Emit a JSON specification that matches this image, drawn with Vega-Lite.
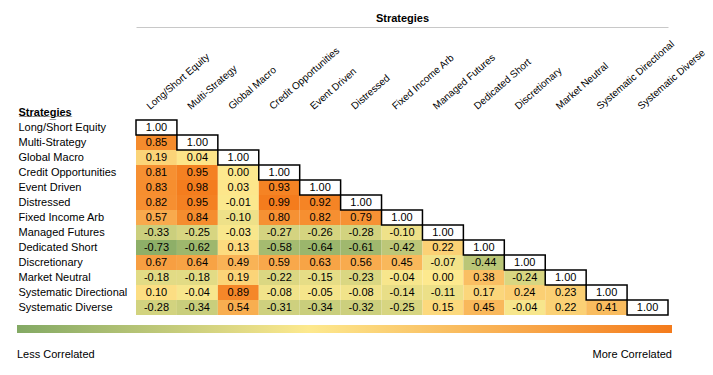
{
  "$schema": "https://vega.github.io/schema/vega-lite/v6.json",
  "width": 532,
  "height": 195,
  "autosize": {"type": "none"},
  "padding": {"left": 136, "top": 120, "right": 45, "bottom": 60},
  "background": "white",
  "config": {"view": {"stroke": null}, "font": "Liberation Sans",
    "locale": {"number": {"decimal": ".", "thousands": ",", "grouping": [3], "currency": ["$", ""], "minus": "-"}}},
  "data": {"values": [
    {"r":"Long/Short Equity","c":"Long/Short Equity","v":1.00},
    {"r":"Multi-Strategy","c":"Long/Short Equity","v":0.85},
    {"r":"Multi-Strategy","c":"Multi-Strategy","v":1.00},
    {"r":"Global Macro","c":"Long/Short Equity","v":0.19},
    {"r":"Global Macro","c":"Multi-Strategy","v":0.04},
    {"r":"Global Macro","c":"Global Macro","v":1.00},
    {"r":"Credit Opportunities","c":"Long/Short Equity","v":0.81},
    {"r":"Credit Opportunities","c":"Multi-Strategy","v":0.95},
    {"r":"Credit Opportunities","c":"Global Macro","v":0.00},
    {"r":"Credit Opportunities","c":"Credit Opportunities","v":1.00},
    {"r":"Event Driven","c":"Long/Short Equity","v":0.83},
    {"r":"Event Driven","c":"Multi-Strategy","v":0.98},
    {"r":"Event Driven","c":"Global Macro","v":0.03},
    {"r":"Event Driven","c":"Credit Opportunities","v":0.93},
    {"r":"Event Driven","c":"Event Driven","v":1.00},
    {"r":"Distressed","c":"Long/Short Equity","v":0.82},
    {"r":"Distressed","c":"Multi-Strategy","v":0.95},
    {"r":"Distressed","c":"Global Macro","v":-0.01},
    {"r":"Distressed","c":"Credit Opportunities","v":0.99},
    {"r":"Distressed","c":"Event Driven","v":0.92},
    {"r":"Distressed","c":"Distressed","v":1.00},
    {"r":"Fixed Income Arb","c":"Long/Short Equity","v":0.57},
    {"r":"Fixed Income Arb","c":"Multi-Strategy","v":0.84},
    {"r":"Fixed Income Arb","c":"Global Macro","v":-0.10},
    {"r":"Fixed Income Arb","c":"Credit Opportunities","v":0.80},
    {"r":"Fixed Income Arb","c":"Event Driven","v":0.82},
    {"r":"Fixed Income Arb","c":"Distressed","v":0.79},
    {"r":"Fixed Income Arb","c":"Fixed Income Arb","v":1.00},
    {"r":"Managed Futures","c":"Long/Short Equity","v":-0.33},
    {"r":"Managed Futures","c":"Multi-Strategy","v":-0.25},
    {"r":"Managed Futures","c":"Global Macro","v":-0.03},
    {"r":"Managed Futures","c":"Credit Opportunities","v":-0.27},
    {"r":"Managed Futures","c":"Event Driven","v":-0.26},
    {"r":"Managed Futures","c":"Distressed","v":-0.28},
    {"r":"Managed Futures","c":"Fixed Income Arb","v":-0.10},
    {"r":"Managed Futures","c":"Managed Futures","v":1.00},
    {"r":"Dedicated Short","c":"Long/Short Equity","v":-0.73},
    {"r":"Dedicated Short","c":"Multi-Strategy","v":-0.62},
    {"r":"Dedicated Short","c":"Global Macro","v":0.13},
    {"r":"Dedicated Short","c":"Credit Opportunities","v":-0.58},
    {"r":"Dedicated Short","c":"Event Driven","v":-0.64},
    {"r":"Dedicated Short","c":"Distressed","v":-0.61},
    {"r":"Dedicated Short","c":"Fixed Income Arb","v":-0.42},
    {"r":"Dedicated Short","c":"Managed Futures","v":0.22},
    {"r":"Dedicated Short","c":"Dedicated Short","v":1.00},
    {"r":"Discretionary","c":"Long/Short Equity","v":0.67},
    {"r":"Discretionary","c":"Multi-Strategy","v":0.64},
    {"r":"Discretionary","c":"Global Macro","v":0.49},
    {"r":"Discretionary","c":"Credit Opportunities","v":0.59},
    {"r":"Discretionary","c":"Event Driven","v":0.63},
    {"r":"Discretionary","c":"Distressed","v":0.56},
    {"r":"Discretionary","c":"Fixed Income Arb","v":0.45},
    {"r":"Discretionary","c":"Managed Futures","v":-0.07},
    {"r":"Discretionary","c":"Dedicated Short","v":-0.44},
    {"r":"Discretionary","c":"Discretionary","v":1.00},
    {"r":"Market Neutral","c":"Long/Short Equity","v":-0.18},
    {"r":"Market Neutral","c":"Multi-Strategy","v":-0.18},
    {"r":"Market Neutral","c":"Global Macro","v":0.19},
    {"r":"Market Neutral","c":"Credit Opportunities","v":-0.22},
    {"r":"Market Neutral","c":"Event Driven","v":-0.15},
    {"r":"Market Neutral","c":"Distressed","v":-0.23},
    {"r":"Market Neutral","c":"Fixed Income Arb","v":-0.04},
    {"r":"Market Neutral","c":"Managed Futures","v":0.00},
    {"r":"Market Neutral","c":"Dedicated Short","v":0.38},
    {"r":"Market Neutral","c":"Discretionary","v":-0.24},
    {"r":"Market Neutral","c":"Market Neutral","v":1.00},
    {"r":"Systematic Directional","c":"Long/Short Equity","v":0.10},
    {"r":"Systematic Directional","c":"Multi-Strategy","v":-0.04},
    {"r":"Systematic Directional","c":"Global Macro","v":0.89},
    {"r":"Systematic Directional","c":"Credit Opportunities","v":-0.08},
    {"r":"Systematic Directional","c":"Event Driven","v":-0.05},
    {"r":"Systematic Directional","c":"Distressed","v":-0.08},
    {"r":"Systematic Directional","c":"Fixed Income Arb","v":-0.14},
    {"r":"Systematic Directional","c":"Managed Futures","v":-0.11},
    {"r":"Systematic Directional","c":"Dedicated Short","v":0.17},
    {"r":"Systematic Directional","c":"Discretionary","v":0.24},
    {"r":"Systematic Directional","c":"Market Neutral","v":0.23},
    {"r":"Systematic Directional","c":"Systematic Directional","v":1.00},
    {"r":"Systematic Diverse","c":"Long/Short Equity","v":-0.28},
    {"r":"Systematic Diverse","c":"Multi-Strategy","v":-0.34},
    {"r":"Systematic Diverse","c":"Global Macro","v":0.54},
    {"r":"Systematic Diverse","c":"Credit Opportunities","v":-0.31},
    {"r":"Systematic Diverse","c":"Event Driven","v":-0.34},
    {"r":"Systematic Diverse","c":"Distressed","v":-0.32},
    {"r":"Systematic Diverse","c":"Fixed Income Arb","v":-0.25},
    {"r":"Systematic Diverse","c":"Managed Futures","v":0.15},
    {"r":"Systematic Diverse","c":"Dedicated Short","v":0.45},
    {"r":"Systematic Diverse","c":"Discretionary","v":-0.04},
    {"r":"Systematic Diverse","c":"Market Neutral","v":0.22},
    {"r":"Systematic Diverse","c":"Systematic Directional","v":0.41},
    {"r":"Systematic Diverse","c":"Systematic Diverse","v":1.00}
  ]},
  "encoding": {
    "y": {"field": "r", "type": "nominal",
      "sort": ["Long/Short Equity","Multi-Strategy","Global Macro","Credit Opportunities","Event Driven","Distressed","Fixed Income Arb","Managed Futures","Dedicated Short","Discretionary","Market Neutral","Systematic Directional","Systematic Diverse"],
      "scale": {"paddingInner": 0, "paddingOuter": 0},
      "axis": {"orient": "left", "domain": false, "ticks": false, "tickSize": 0,
        "labelAlign": "left", "labelPadding": 118, "labelFont": "Liberation Sans",
        "labelFontSize": 11, "labelColor": "black", "labelLimit": 200,
        "title": "S̲t̲r̲a̲t̲e̲g̲i̲e̲s̲", "titleAngle": 0, "titleAlign": "left",
        "titleBaseline": "alphabetic", "titleX": -118, "titleY": -5,
        "titleFont": "Liberation Sans", "titleFontSize": 11, "titleFontWeight": "bold", "titleColor": "black"}}
  },
  "layer": [
    {
      "transform": [{"filter": "datum.r !== datum.c"}],
      "mark": {"type": "rect"},
      "encoding": {
        "x": {"field": "c", "type": "nominal",
          "sort": ["Long/Short Equity","Multi-Strategy","Global Macro","Credit Opportunities","Event Driven","Distressed","Fixed Income Arb","Managed Futures","Dedicated Short","Discretionary","Market Neutral","Systematic Directional","Systematic Diverse"],
          "scale": {"paddingInner": 0, "paddingOuter": 0},
          "axis": {"orient": "top", "domain": false, "ticks": false, "tickSize": 0,
            "labelAngle": -41, "labelAlign": "left", "labelBaseline": "bottom",
            "labelPadding": 9, "labelOffset": -5, "labelFont": "Liberation Sans", "labelFontSize": 10,
            "labelColor": "black", "labelLimit": 200, "title": null}},
        "color": {"field": "v", "type": "quantitative",
          "scale": {"domain": [-0.8, 0, 1], "range": ["#83a964", "#fde98e", "#f47b1c"], "interpolate": "rgb"},
          "legend": {"orient": "none", "legendX": -119, "legendY": 205, "direction": "horizontal",
            "gradientLength": 655, "gradientThickness": 8, "gradientStrokeWidth": 0,
            "title": null, "values": [-0.8, 1], "padding": 0,
            "labelExpr": "datum.value < 0 ? 'Less Correlated' : 'More Correlated'",
            "labelFont": "Liberation Sans", "labelFontSize": 11, "labelColor": "black", "labelOffset": 16}}
      }
    },
    {
      "transform": [{"filter": "datum.r === datum.c"}],
      "mark": {"type": "rect", "fill": "white", "stroke": "black", "strokeWidth": 1.5},
      "encoding": {
        "x": {"field": "c", "type": "nominal",
          "sort": ["Long/Short Equity","Multi-Strategy","Global Macro","Credit Opportunities","Event Driven","Distressed","Fixed Income Arb","Managed Futures","Dedicated Short","Discretionary","Market Neutral","Systematic Directional","Systematic Diverse"],
          "axis": null}
      }
    },
    {
      "mark": {"type": "text", "font": "Liberation Sans", "fontSize": 11, "color": "black"},
      "encoding": {
        "x": {"field": "c", "type": "nominal",
          "sort": ["Long/Short Equity","Multi-Strategy","Global Macro","Credit Opportunities","Event Driven","Distressed","Fixed Income Arb","Managed Futures","Dedicated Short","Discretionary","Market Neutral","Systematic Directional","Systematic Diverse"],
          "axis": {"orient": "top", "offset": 93, "labels": false, "ticks": false,
            "domainColor": "#c8c8c8", "domainWidth": 1, "title": "Strategies", "titlePadding": 4,
            "titleFont": "Liberation Sans", "titleFontSize": 11, "titleFontWeight": "bold", "titleColor": "black"}},
        "text": {"field": "v", "type": "quantitative", "format": ".2f"}
      }
    }
  ],
  "resolve": {"axis": {"x": "independent"}}
}
